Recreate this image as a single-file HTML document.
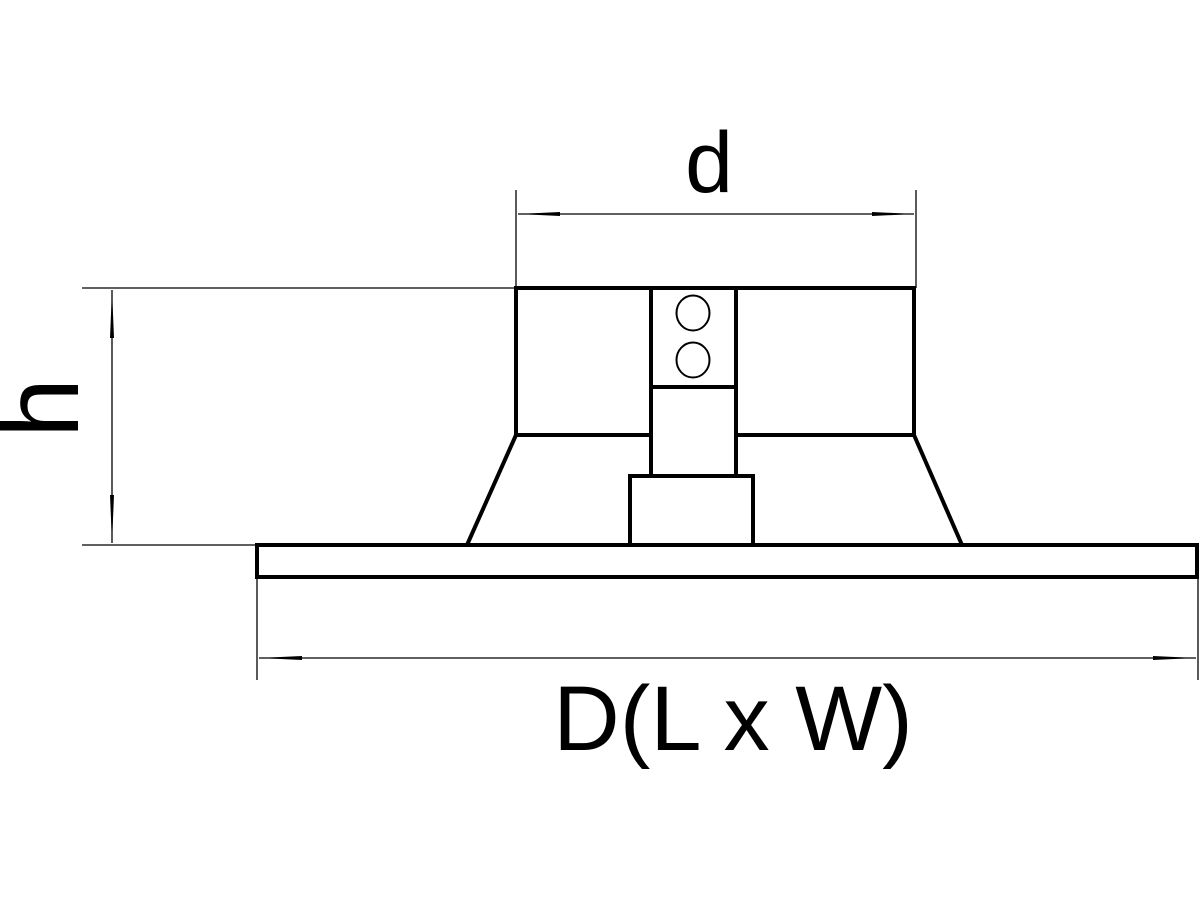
<!DOCTYPE html>
<html><head><meta charset="utf-8"><style>html,body{margin:0;padding:0;background:#fff}svg{display:block}</style></head>
<body>
<svg width="1200" height="900" viewBox="0 0 1200 900" xmlns="http://www.w3.org/2000/svg">
<rect width="1200" height="900" fill="#fff"/>
<g fill="none" stroke="#000" stroke-width="1.3">
  <!-- extension lines -->
  <line x1="516" y1="190" x2="516" y2="288"/>
  <line x1="916" y1="190" x2="916" y2="288"/>
  <line x1="82" y1="288" x2="516" y2="288"/>
  <line x1="82" y1="545" x2="257" y2="545"/>
  <line x1="257" y1="577" x2="257" y2="680"/>
  <line x1="1198" y1="577" x2="1198" y2="680"/>
  <!-- dimension lines -->
  <line x1="518" y1="214" x2="914" y2="214"/>
  <line x1="112" y1="290" x2="112" y2="543"/>
  <line x1="259" y1="658" x2="1196" y2="658"/>
</g>
<g fill="#000">
  <polygon points="518,214 560,212 560,216"/>
  <polygon points="914,214 872,212 872,216"/>
  <polygon points="112,290 110,338 114,338"/>
  <polygon points="112,543 110,495 114,495"/>
  <polygon points="259,658 302,656 302,660"/>
  <polygon points="1196,658 1153,656 1153,660"/>
</g>
<g fill="none" stroke="#000" stroke-width="4" stroke-linejoin="miter">
  <rect x="257" y="545" width="940" height="32"/>
  <rect x="516" y="288" width="398" height="147"/>
  <line x1="516" y1="435" x2="467" y2="545"/>
  <line x1="914" y1="435" x2="962" y2="545"/>
  <rect x="651" y="288" width="85" height="188" fill="#fff"/>
  <line x1="651" y1="387" x2="736" y2="387"/>
  <rect x="630" y="476" width="123" height="69" fill="#fff"/>
</g>
<g fill="none" stroke="#000" stroke-width="2">
  <ellipse cx="693" cy="313" rx="16.5" ry="17.5"/>
  <ellipse cx="693" cy="360" rx="16.5" ry="17.5"/>
</g>
<g font-family="'Liberation Sans', sans-serif" fill="#000">
  <text x="709" y="192" font-size="86" text-anchor="middle">d</text>
  <text x="733" y="750" font-size="92" text-anchor="middle">D(L x W)</text>
  <text transform="translate(78,408) rotate(-90)" font-size="108" text-anchor="middle">h</text>
</g>
</svg>
</body></html>
